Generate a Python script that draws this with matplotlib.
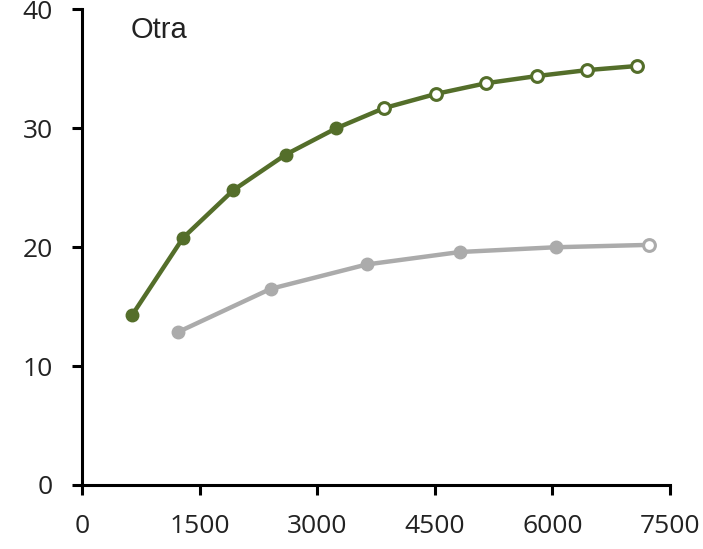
import matplotlib
matplotlib.use("Agg")
import matplotlib.pyplot as plt

# Data
green_x = [640, 1290, 1930, 2600, 3240, 3850, 4515, 5155, 5800, 6440, 7085]
green_y = [14.3, 20.8, 24.8, 27.8, 30.0, 31.7, 32.9, 33.8, 34.4, 34.9, 35.25]
green_filled = [True, True, True, True, True, False, False, False, False, False, False]

gray_x = [1220, 2406, 3630, 4821, 6042, 7236]
gray_y = [12.85, 16.5, 18.55, 19.6, 20.0, 20.2]
gray_filled = [True, True, True, True, True, False]

x_ticks = [0, 1500, 3000, 4500, 6000, 7500]
y_ticks = [0, 10, 20, 30, 40]
panel_label = "Otra"

GREEN = "#546E2A"
GRAY = "#ABABAB"

plt.rcParams['font.family'] = ['Open Sans', 'DejaVu Sans']

fig = plt.figure(figsize=(7.03, 5.49), dpi=100)
ax = fig.add_axes([82/703, 64/549, (670-82)/703, (485-9.5)/549])

def draw(xs, ys, filled, color):
    ax.plot(xs, ys, color=color, lw=3.2, zorder=2, solid_capstyle='round')
    fx = [x for x, f in zip(xs, filled) if f]
    fy = [y for y, f in zip(ys, filled) if f]
    hx = [x for x, f in zip(xs, filled) if not f]
    hy = [y for y, f in zip(ys, filled) if not f]
    ax.plot(fx, fy, 'o', ms=9, color=color, mec=color, zorder=3)
    ax.plot(hx, hy, 'o', ms=8.5, mfc='white', mec=color, mew=2.2, zorder=3)

draw(gray_x, gray_y, gray_filled, GRAY)
draw(green_x, green_y, green_filled, GREEN)

ax.set_xlim(0, 7500)
ax.set_ylim(0, 40)
ax.set_xticks(x_ticks)
ax.set_yticks(y_ticks)
ax.set_xticklabels([str(v) for v in x_ticks])
ax.set_yticklabels([str(v) for v in y_ticks])

for s in ['top', 'right']:
    ax.spines[s].set_visible(False)
for s in ['left', 'bottom']:
    ax.spines[s].set_linewidth(2.2)
    ax.spines[s].set_color('black')
    ax.spines[s].set_capstyle('projecting')

ax.tick_params(axis='both', direction='out', length=7, width=2.2, colors='black',
               labelsize=19, labelcolor='#222222')
ax.tick_params(axis='x', pad=14)
ax.tick_params(axis='y', pad=14)

ax.text(131/703, (549-30)/549, panel_label, transform=fig.transFigure,
        fontsize=21, color='#222222', va='center', ha='left',
        family=['Liberation Sans', 'DejaVu Sans'])

fig.savefig("out.png", dpi=100)
